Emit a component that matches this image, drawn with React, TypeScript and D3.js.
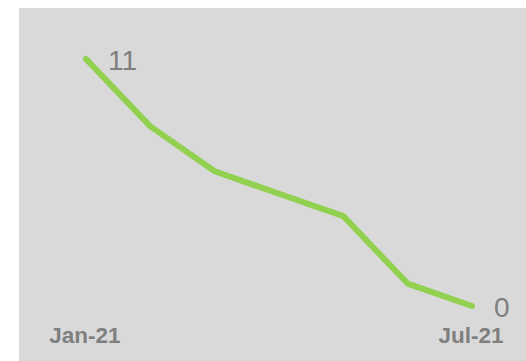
import React from "react";
import * as d3 from "d3";

const months = ["Jan-21", "Feb-21", "Mar-21", "Apr-21", "May-21", "Jun-21", "Jul-21"];
const counts = [11, 8, 6, 5, 4, 1, 0];
const tickLabels = ["Jan-21", "Jul-21"];

const W = 526;
const H = 361;

export default function App() {
  const x = d3.scalePoint<string>().domain(months).range([86, 472]);
  const y = d3.scaleLinear().domain([0, 11]).range([306, 59]);
  const line = d3
    .line<number>()
    .x((_, i) => x(months[i]) as number)
    .y((d) => y(d));

  const first = 0;
  const last = counts.length - 1;
  const font = "'Liberation Sans', Arial, sans-serif";

  return (
    <svg
      width={W}
      height={H}
      style={{ position: "absolute", left: 0, top: 0 }}
      fontFamily={font}
    >
      <rect x={19} y={8} width={W - 19} height={H - 8} fill="#d9d9d9" />
      <path
        d={line(counts) || ""}
        fill="none"
        stroke="#92d050"
        strokeWidth={6}
        strokeLinejoin="round"
        strokeLinecap="round"
      />
      {[first, last].map((i) => (
        <text
          key={i}
          x={(x(months[i]) as number) + 22}
          y={y(counts[i]) + 11}
          fontSize={28}
          fill="#7f7f7f"
        >
          {counts[i]}
        </text>
      ))}
      {tickLabels.map((t) => (
        <text
          key={t}
          x={(x(t) as number) - 1}
          y={343}
          fontSize={22.5}
          fontWeight="bold"
          fill="#7f7f7f"
          textAnchor="middle"
        >
          {t}
        </text>
      ))}
    </svg>
  );
}
